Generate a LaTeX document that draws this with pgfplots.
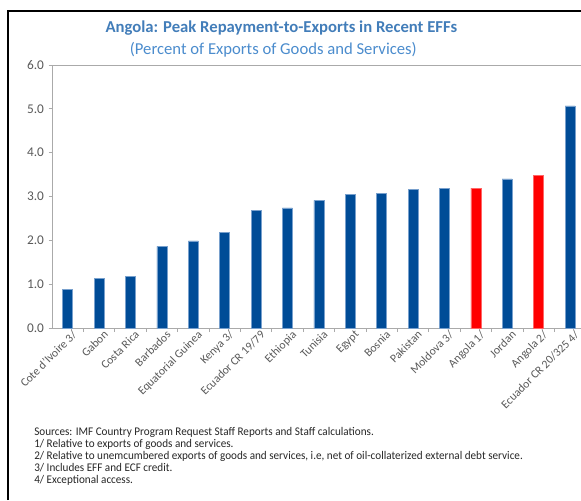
\documentclass[border=0pt]{standalone}
\usepackage{pgfplots}
\pgfplotsset{compat=1.18}
\usepackage{fontspec}
\setmainfont{Carlito}
\newfontfamily\notefont[FakeStretch=0.95]{Carlito}
\definecolor{barblue}{RGB}{0,76,151}
\definecolor{baredge}{RGB}{120,160,205}
\definecolor{titleblue}{RGB}{66,125,185}
\definecolor{subblue}{RGB}{75,140,205}
\definecolor{ticktext}{RGB}{89,89,89}
\definecolor{axisgray}{RGB}{170,170,170}
\begin{document}
\begin{tikzpicture}
\useasboundingbox (0,0) rectangle (435.75pt,375pt);
\draw[black, line width=1.1pt] (6pt,0pt) -- (6pt,366.75pt) -- (436pt,366.75pt);
\node[text=titleblue, font=\bfseries\fontsize{12.5}{14}\selectfont] at (211pt,354pt) {Angola: Peak Repayment-to-Exports in Recent EFFs};
\node[text=subblue, font=\fontsize{12.5}{14}\selectfont] at (205pt,338pt) {(Percent of Exports of Goods and Services)};
\begin{axis}[
  at={(39pt,129pt)}, anchor=south west,
  scale only axis, width=396.75pt, height=197.25pt,
  xmin=-0.5, xmax=16.35, ymin=0, ymax=6,
  axis x line*=bottom, axis y line*=left,
  axis line style={axisgray, line width=0.6pt},
  xtick={0,...,16},
  xticklabels={Cote d'Ivoire 3/, Gabon, Costa Rica, Barbados, Equatorial Guinea, Kenya 3/, Ecuador CR 19/79, Ethiopia, Tunisia, Egypt, Bosnia, Pakistan, Moldova 3/, Angola 1/, Jordan, Angola 2/, Ecuador CR 20/325 4/},
  minor xtick={0.5,1.5,...,15.5},
  major x tick style={draw=none},
  minor x tick style={axisgray, line width=0.6pt},
  minor tick length=3pt,
  tick align=outside,
  x tick label style={rotate=45, anchor=north east, inner sep=1pt, text=ticktext, font=\fontsize{8.8}{9}\selectfont, xshift=4pt},
  ytick={0,1,...,6},
  y tick style={axisgray, line width=0.6pt},
  major tick length=2.5pt,
  y tick label style={text=ticktext, font=\fontsize{10}{11}\selectfont},
  yticklabel style={/pgf/number format/.cd, fixed, fixed zerofill, precision=1, assume math mode=true},
  ybar, bar width=7.5pt,
  clip=false,
]
\addplot[ybar, bar shift=0pt, fill=barblue, draw=baredge, line width=0.3pt] coordinates {
(0,0.88) (1,1.13) (2,1.18) (3,1.86) (4,1.99) (5,2.18) (6,2.69) (7,2.74) (8,2.91) (9,3.05) (10,3.07) (11,3.17) (12,3.19) (14,3.40) (16,5.07)};
\addplot[ybar, bar shift=0pt, fill=red, draw=red!60, line width=0.3pt] coordinates {
(13,3.19) (15,3.49)};
\draw[axisgray, line width=0.6pt] (rel axis cs:0,1) -- (rel axis cs:1,1);
\end{axis}
\node[anchor=north west, align=left, font=\notefont\fontsize{8.8}{9.15}\selectfont, text=black!85, inner sep=0pt] at (25.5pt,55pt) {Sources: IMF Country Program Request Staff Reports and Staff calculations.\\
1/ Relative to exports of goods and services.\\
2/ Relative to unemcumbered exports of goods and services, i.e, net of oil-collaterized external debt service.\\
3/ Includes EFF and ECF credit.\\
4/ Exceptional access.};
\end{tikzpicture}
\end{document}
